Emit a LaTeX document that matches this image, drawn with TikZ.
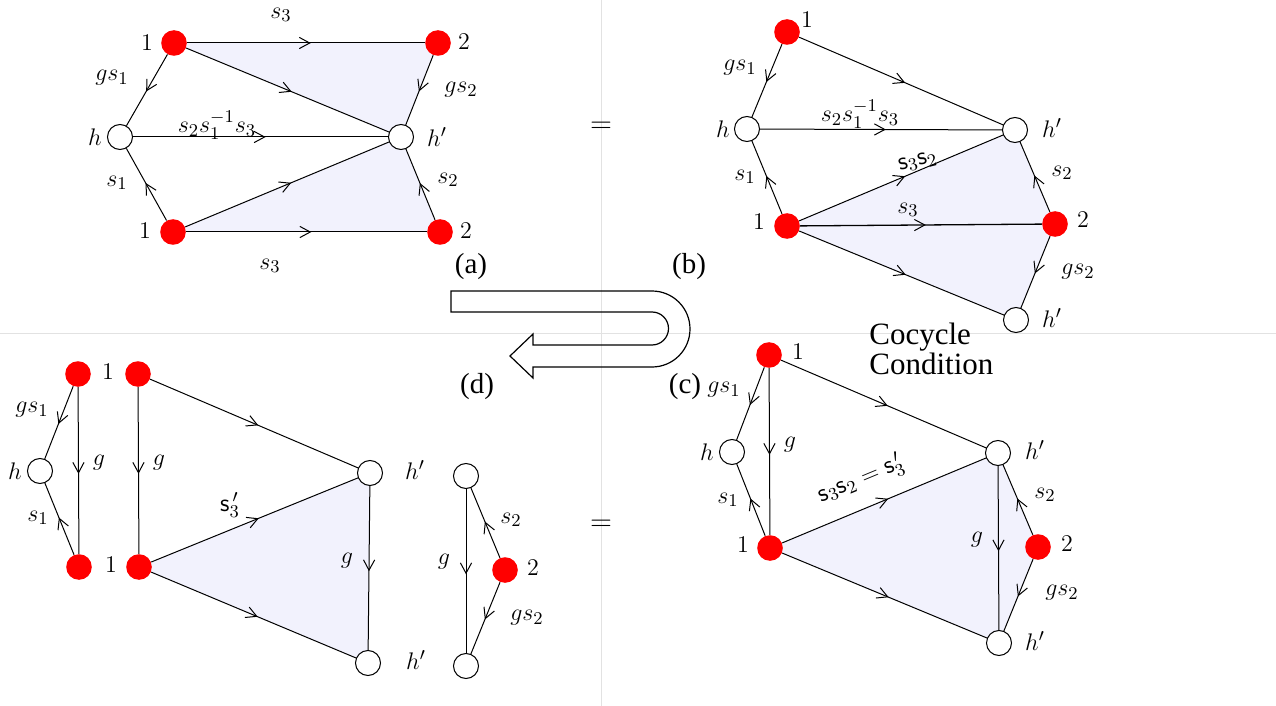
\documentclass[tikz,border=0pt]{standalone}
\usepackage{fontspec}
\setmainfont{Liberation Serif}
\newfontfamily\tagfont{Liberation Serif}
\usetikzlibrary{arrows.meta,decorations.markings}
\definecolor{shadefill}{RGB}{242,242,253}
\definecolor{divgray}{RGB}{226,226,226}
\tikzset{
  rednode/.style={circle,fill=red,minimum size=12.8pt,inner sep=0pt},
  whitenode/.style={circle,draw=black,line width=0.5pt,fill=white,minimum size=12.5pt,inner sep=0pt},
  mid/.style={draw,line width=0.5pt,postaction={decorate},
    decoration={markings,mark=at position 0.52 with {\arrow{Straight Barb[length=5.2pt,width=5.6pt,line width=0.5pt]}}}},
  lab/.style={inner sep=0pt,font=\fontsize{12.5}{14}\selectfont},
  tag/.style={inner sep=0pt,font=\tagfont\fontsize{14.5}{16}\selectfont},
  eqsign/.style={inner sep=0pt,font=\fontsize{14}{16}\selectfont},
}
\begin{document}
\begin{tikzpicture}[x=0.5pt,y=-0.5pt]
\useasboundingbox (0,0) rectangle (1276,706);
% dividers
\draw[divgray,line width=0.5pt] (0,333) -- (1276,333);
\draw[divgray,line width=0.5pt] (601,0) -- (601,706);

% ---------- coordinates ----------
% (a)
\coordinate (A1t) at (174,43);  \coordinate (A2t) at (438,43);
\coordinate (Ah) at (120,137);  \coordinate (Ahp) at (401,137);
\coordinate (A1b) at (173,232); \coordinate (A2b) at (440,232);
% (b)
\coordinate (B1t) at (787,32);  \coordinate (Bh) at (747,129);
\coordinate (Bhp) at (1015,130); \coordinate (B1b) at (787,226);
\coordinate (B2) at (1055,224); \coordinate (Bhq) at (1016,320);
% (c)
\coordinate (C1t) at (769,355); \coordinate (Ch) at (732,452);
\coordinate (C1b) at (770,548); \coordinate (Chp) at (998,453);
\coordinate (C2) at (1038,547); \coordinate (Chq) at (999,643);
% (d)
\coordinate (D1t) at (78,374);  \coordinate (Dh) at (40,471);
\coordinate (D1b) at (79,567);
\coordinate (E1t) at (138,374); \coordinate (E1b) at (139,567);
\coordinate (Ehp) at (370,473); \coordinate (Ehq) at (368,663);
\coordinate (Fhp) at (466,476); \coordinate (F2) at (505,570);
\coordinate (Fhq) at (466,666);

% ---------- shading ----------
\fill[shadefill] (A1t) -- (A2t) -- (Ahp) -- cycle;
\fill[shadefill] (A1b) -- (Ahp) -- (A2b) -- cycle;
\fill[shadefill] (B1b) -- (Bhp) -- (B2) -- (Bhq) -- cycle;
\fill[shadefill] (C1b) -- (Chp) -- (C2) -- (Chq) -- cycle;
\fill[shadefill] (E1b) -- (Ehp) -- (Ehq) -- cycle;

% ---------- nodes ----------
\node[rednode] (a1t) at (A1t) {}; \node[rednode] (a2t) at (A2t) {};
\node[whitenode] (ah) at (Ah) {}; \node[whitenode] (ahp) at (Ahp) {};
\node[rednode] (a1b) at (A1b) {}; \node[rednode] (a2b) at (A2b) {};

\node[rednode] (b1t) at (B1t) {}; \node[whitenode] (bh) at (Bh) {};
\node[whitenode] (bhp) at (Bhp) {}; \node[rednode] (b1b) at (B1b) {};
\node[rednode] (b2) at (B2) {}; \node[whitenode] (bhq) at (Bhq) {};

\node[rednode] (c1t) at (C1t) {}; \node[whitenode] (ch) at (Ch) {};
\node[rednode] (c1b) at (C1b) {}; \node[whitenode] (chp) at (Chp) {};
\node[rednode] (c2) at (C2) {}; \node[whitenode] (chq) at (Chq) {};

\node[rednode] (d1t) at (D1t) {}; \node[whitenode] (dh) at (Dh) {};
\node[rednode] (d1b) at (D1b) {};
\node[rednode] (e1t) at (E1t) {}; \node[rednode] (e1b) at (E1b) {};
\node[whitenode] (ehp) at (Ehp) {}; \node[whitenode] (ehq) at (Ehq) {};
\node[whitenode] (fhp) at (Fhp) {}; \node[rednode] (f2) at (F2) {};
\node[whitenode] (fhq) at (Fhq) {};

% ---------- edges (a) ----------
\draw[mid] (a1t) -- (a2t);
\draw[mid] (a1t) -- (ahp);
\draw[mid] (a2t) -- (ahp);
\draw[mid] (a1t) -- (ah);
\draw[mid] (ah) -- (ahp);
\draw[mid] (a1b) -- (ah);
\draw[mid] (a1b) -- (ahp);
\draw[mid] (a2b) -- (ahp);
\draw[mid] (a1b) -- (a2b);
% ---------- edges (b) ----------
\draw[mid] (b1t) -- (bh);
\draw[mid] (b1t) -- (bhp);
\draw[mid] (bh) -- (bhp);
\draw[mid] (b1b) -- (bh);
\draw[mid] (b1b) -- (bhp);
\draw[mid,line width=0.65pt] (b1b) -- (b2);
\draw[mid] (b1b) -- (bhq);
\draw[mid] (b2) -- (bhp);
\draw[mid] (b2) -- (bhq);
% ---------- edges (c) ----------
\draw[mid] (c1t) -- (ch);
\draw[mid] (c1t) -- (c1b);
\draw[mid] (c1b) -- (ch);
\draw[mid] (c1t) -- (chp);
\draw[mid] (c1b) -- (chp);
\draw[mid] (c1b) -- (chq);
\draw[mid] (chp) -- (chq);
\draw[mid] (c2) -- (chp);
\draw[mid] (c2) -- (chq);
% ---------- edges (d) ----------
\draw[mid] (d1t) -- (dh);
\draw[mid] (d1t) -- (d1b);
\draw[mid] (d1b) -- (dh);
\draw[mid] (e1t) -- (e1b);
\draw[mid] (e1t) -- (ehp);
\draw[mid] (e1b) -- (ehp);
\draw[mid] (e1b) -- (ehq);
\draw[mid] (ehp) -- (ehq);
\draw[mid] (fhp) -- (fhq);
\draw[mid] (f2) -- (fhp);
\draw[mid] (f2) -- (fhq);

% ---------- labels (a) ----------
\node[lab] (la1) at (147,43) {$1$};
\node[lab] (la2) at (464,42) {$2$};
\node[lab] (lah) at (95,137) {$h$};
\node[lab] (lahp) at (437,137) {$h'$};
\node[lab] (la1b) at (145,231) {$1$};
\node[lab] (la2b) at (466,231) {$2$};
\node[lab] (las3t) at (281,15) {$s_3$};
\node[lab] (lags1) at (112,78) {$gs_1$};
\node[lab] (lamid) at (217,125) {$s_2s_1^{-1}s_3$};
\node[lab] (lags2) at (461,90) {$gs_2$};
\node[lab] (las1) at (117,183) {$s_1$};
\node[lab] (las2) at (448,180) {$s_2$};
\node[lab] (las3b) at (270,266) {$s_3$};
\node[tag] (taga) at (471,267) {(a)};
\node[eqsign] (eq1) at (601,127) {$=$};

% ---------- labels (b) ----------
\node[lab] (lb1) at (807,20) {$1$};
\node[lab] (lbh) at (723,129) {$h$};
\node[lab] (lbhp) at (1052,128) {$h'$};
\node[lab] (lb1b) at (759,222) {$1$};
\node[lab] (lb2) at (1083,220) {$2$};
\node[lab] (lbhq) at (1052,318) {$h'$};
\node[lab] (lbgs1) at (740,68) {$gs_1$};
\node[lab] (lbmid) at (860,114) {$s_2s_1^{-1}s_3$};
\node[lab] (lbs1) at (745,177) {$s_1$};
\node[lab,rotate=14] (lbs3s2) at (918,162) {$\mathsf{s}_3\mathsf{s}_2$};
\node[lab] (lbs3) at (908,210) {$s_3$};
\node[lab] (lbs2) at (1062,173) {$s_2$};
\node[lab] (lbgs2) at (1078,272) {$gs_2$};
\node[tag] (tagb) at (689,267) {(b)};

% ---------- labels (c) ----------
\node[lab] (lc1) at (798,352) {$1$};
\node[lab] (lch) at (707,452) {$h$};
\node[lab] (lc1b) at (743,545) {$1$};
\node[lab] (lchp) at (1035,450) {$h'$};
\node[lab] (lc2) at (1067,544) {$2$};
\node[lab] (lchq) at (1035,641) {$h'$};
\node[tag] (tagc) at (685,387) {(c)};
\node[lab] (lcgs1) at (724,390) {$gs_1$};
\node[lab] (lcg1) at (790,445) {$g$};
\node[lab] (lcs1) at (728,500) {$s_1$};
\node[lab,rotate=22.6] (lceq) at (861,479) {$\mathsf{s}_3\mathsf{s}_2=\mathsf{s}_3^{\,\prime}$};
\node[lab] (lcg2) at (977,540) {$g$};
\node[lab] (lcs2) at (1045,495) {$s_2$};
\node[lab] (lcgs2) at (1062,593) {$gs_2$};
\node[inner sep=0pt,anchor=west,align=left,font=\tagfont\fontsize{15.5}{13.3}\selectfont] (cocyc) at (869,349) {Cocycle\\Condition};

% ---------- labels (d) ----------
\node[lab] (ld1) at (108,372) {$1$};
\node[lab] (ld1b) at (111,565) {$1$};
\node[lab] (ldh) at (15,471) {$h$};
\node[lab] (ldgs1) at (32,410) {$gs_1$};
\node[lab] (lds1) at (38,518) {$s_1$};
\node[lab] (ldg1) at (99,463) {$g$};
\node[lab] (ldg2) at (159,463) {$g$};
\node[lab] (lds3) at (230,505) {$\mathsf{s}_3^{\,\prime}$};
\node[lab] (ldhp) at (415,470) {$h'$};
\node[lab] (ldg3) at (347,561) {$g$};
\node[lab] (ldhq) at (416,660) {$h'$};
\node[lab] (ldg4) at (444,562) {$g$};
\node[lab] (lds2) at (511,520) {$s_2$};
\node[lab] (ld2) at (533,568) {$2$};
\node[lab] (ldgs2) at (527,618) {$gs_2$};
\node[tag] (tagd) at (477,387) {(d)};
\node[eqsign] (eq2) at (601,525) {$=$};

% ---------- U-turn arrow ----------
\draw[line width=0.6pt,line join=miter]
  (451,291) -- (652,291) arc[start angle=-90,end angle=90,radius=38]
  -- (533,367) -- (533,378) -- (510,356) -- (533,334) -- (533,345)
  -- (652,345) arc[start angle=90,end angle=-90,radius=16.5]
  -- (451,312) -- cycle;
\end{tikzpicture}
\end{document}
